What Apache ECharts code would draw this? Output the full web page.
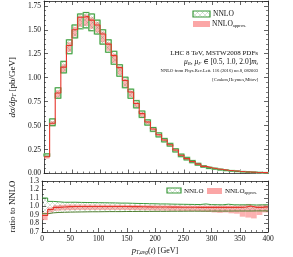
<!DOCTYPE html>
<html><head><meta charset="utf-8">
<script src="https://cdn.jsdelivr.net/npm/echarts@6/dist/echarts.min.js"></script>
<style>html,body{margin:0;padding:0;background:#fff}#c{width:293px;height:257px}</style>
</head><body><div id="c"></div>
<script>
// ---- data ----
const binLeft = [0,10,20,30,40,50,60,70,80,90,100,110,120,130,140,150,160,170,180,190,
                 200,210,220,230,240,250,260,270,280,290,300,310,320,330,340,350,360,370,380,390];
const binWidth = 10;
const xTicks = [0,50,100,150,200,250,300,350,400];
// top panel: dsigma/dpT [pb/GeV]
const nnloHi = [0.205,0.57,0.895,1.17,1.395,1.55,1.665,1.68,1.665,1.60,1.50,1.395,1.275,1.135,1.005,0.88,0.76,0.652,0.56,0.48,
                0.424,0.366,0.314,0.258,0.202,0.168,0.135,0.106,0.080,0.065,0.055,0.045,0.037,0.031,0.026,0.021,0.018,0.015,0.012,0.010];
const nnloLo = [0.18,0.50,0.785,1.05,1.25,1.415,1.51,1.52,1.49,1.455,1.35,1.265,1.14,1.015,0.895,0.785,0.685,0.585,0.505,0.44,
                0.382,0.33,0.286,0.225,0.176,0.142,0.113,0.087,0.066,0.052,0.045,0.036,0.030,0.024,0.020,0.016,0.013,0.011,0.009,0.007];
const apxMid = [0.175,0.525,0.84,1.11,1.335,1.50,1.63,1.64,1.60,1.55,1.455,1.35,1.23,1.105,0.97,0.85,0.73,0.625,0.538,0.465,
                0.405,0.35,0.30,0.245,0.19,0.155,0.125,0.098,0.074,0.060,0.050,0.041,0.034,0.028,0.023,0.019,0.016,0.013,0.011,0.009];
const apxHi  = [0.19,0.545,0.87,1.14,1.37,1.53,1.645,1.66,1.63,1.58,1.48,1.37,1.25,1.12,0.99,0.865,0.745,0.64,0.55,0.47,
                0.415,0.36,0.307,0.252,0.197,0.161,0.13,0.102,0.077,0.062,0.052,0.043,0.035,0.029,0.024,0.020,0.017,0.014,0.012,0.010];
const apxLo  = [0.155,0.49,0.79,1.06,1.27,1.43,1.53,1.54,1.51,1.47,1.37,1.28,1.155,1.03,0.905,0.795,0.69,0.59,0.51,0.445,
                0.385,0.333,0.288,0.228,0.178,0.145,0.115,0.089,0.067,0.054,0.045,0.037,0.030,0.025,0.020,0.016,0.013,0.011,0.009,0.007];
// bottom panel: ratio to NNLO
const rNnloHi = [1.10,1.06,1.055,1.05,1.05,1.05,1.048,1.047,1.046,1.045,1.044,1.043,1.042,1.04,1.04,1.038,1.036,1.035,1.033,1.032,
                 1.03,1.03,1.028,1.027,1.026,1.025,1.024,1.023,1.03,1.022,1.021,1.02,1.027,1.02,1.02,1.02,1.02,1.018,1.02,1.02];
const rNnloLo = [0.915,0.925,0.93,0.932,0.934,0.935,0.936,0.937,0.938,0.938,0.939,0.94,0.94,0.94,0.941,0.941,0.942,0.942,0.942,0.943,
                 0.943,0.943,0.944,0.944,0.944,0.945,0.945,0.945,0.945,0.946,0.946,0.946,0.946,0.947,0.947,0.947,0.947,0.948,0.948,0.948];
const rApxMid = [0.895,0.965,0.99,0.995,0.998,1.0,1.0,1.0,1.0,1.0,1.0,1.0,1.0,1.0,1.0,0.998,0.998,0.997,0.996,0.995,
                 0.995,0.994,0.993,0.993,0.992,0.992,0.991,0.99,0.99,0.99,0.99,0.99,0.99,0.99,0.99,0.992,1.005,0.99,0.99,0.995];
const rApxHi  = [0.93,0.99,1.015,1.02,1.022,1.023,1.023,1.023,1.022,1.022,1.021,1.02,1.02,1.02,1.019,1.018,1.017,1.016,1.015,1.014,
                 1.013,1.012,1.012,1.011,1.01,1.01,1.01,1.01,1.01,1.01,1.01,1.01,1.012,1.01,1.01,1.015,1.03,1.01,1.015,1.02];
const rApxLo  = [0.84,0.93,0.95,0.955,0.957,0.958,0.96,0.96,0.96,0.96,0.96,0.96,0.96,0.96,0.96,0.958,0.958,0.957,0.956,0.955,
                 0.953,0.952,0.95,0.95,0.948,0.947,0.945,0.945,0.94,0.935,0.93,0.925,0.93,0.92,0.915,0.88,0.87,0.86,0.90,0.93];

// ---- helpers ----
const FONT = '"Liberation Serif","DejaVu Serif",serif';
const GREEN = '#3a9a3a', LGREEN = '#b5e0b5', RED = '#e5352b', PINK = 'rgba(250,125,125,0.6)';
function hatchCanvas(color){
  const c=document.createElement('canvas'); c.width=c.height=5;
  const g=c.getContext('2d'); g.strokeStyle=color; g.lineWidth=0.6;
  g.beginPath(); g.moveTo(0,0); g.lineTo(5,5); g.moveTo(5,0); g.lineTo(0,5); g.stroke();
  return c;
}
const hatch = {image: hatchCanvas('rgba(70,130,70,0.35)'), repeat:'repeat'};
function bandData(lo, hi){ return binLeft.map((x,i)=>[x, x+binWidth, lo[i], hi[i]]); }
function stepData(v){ const d = binLeft.map((x,i)=>[x, v[i]]); d.push([binLeft[binLeft.length-1]+binWidth, v[v.length-1]]); return d; }
function rectFromApi(api){
  const a = api.coord([api.value(0), api.value(3)]);
  const b = api.coord([api.value(1), api.value(2)]);
  return {x:a[0], y:a[1], width:b[0]-a[0], height:b[1]-a[1]};
}

function xAx(grid, pos, labels, name){
  return {type:'value', gridIndex:grid, position:pos, min:0, max:400, interval:50,
    axisLine:{show:true, onZero:false, lineStyle:{color:'#222', width:0.8}},
    axisTick:{show:true, inside:true, length:4, lineStyle:{color:'#222', width:0.7}},
    minorTick:{show:true, splitNumber:5, length:2, lineStyle:{color:'#222', width:0.6}},
    splitLine:{show:false},
    axisLabel:{show:labels, margin:3, fontFamily:FONT, fontSize:7.5, color:'#111'},
    name: name || '', nameLocation:'middle', nameGap:14,
    nameTextStyle:{fontFamily:FONT, fontSize:8, color:'#111',
      rich:{i:{fontFamily:FONT, fontStyle:'italic', fontSize:8.5}, s:{fontFamily:FONT, fontStyle:'italic', fontSize:5.5, verticalAlign:'bottom', padding:[4,0,0,0]}, n:{fontFamily:FONT, fontSize:8}}}
  };
}
function yAx(grid, pos, labels, min, max, interval, minorN, dec, name){
  return {type:'value', gridIndex:grid, position:pos, min:min, max:max, interval:interval,
    axisLine:{show:true, onZero:false, lineStyle:{color:'#222', width:0.8}},
    axisTick:{show:true, inside:true, length:4, lineStyle:{color:'#222', width:0.7}},
    minorTick:{show:true, splitNumber:minorN, length:2, lineStyle:{color:'#222', width:0.6}},
    splitLine:{show:false},
    axisLabel:{show:labels, margin:3, fontFamily:FONT, fontSize:7.5, color:'#111', showMaxLabel: max===1.3,
      formatter: v => v.toFixed(dec)},
    name: name || '', nameLocation:'middle', nameGap:25, nameRotate:90,
    nameTextStyle:{fontFamily:FONT, fontSize:8.8, color:'#111',
      rich:{i:{fontFamily:FONT, fontStyle:'italic', fontSize:9}, s:{fontFamily:FONT, fontStyle:'italic', fontSize:6, verticalAlign:'bottom'}, n:{fontFamily:FONT, fontSize:9}}}
  };
}

const chart = echarts.init(document.getElementById('c'), null, {renderer:'canvas'});
const option = {
  animation:false,
  grid:[{left:35, right:25, top:1, height:172.5}, {left:35, right:25, top:181, height:56.5}],
  xAxis:[xAx(0,'bottom',false), xAx(0,'top',false), xAx(1,'bottom',true,'{i|p}{s|T,avg}{n|(}{i|t}{n|) [GeV]}'), xAx(1,'top',false)],
  yAxis:[yAx(0,'left',true,0,1.8,0.25,5,2,'{i|dσ/dp}{s|T}{n| [pb/GeV]}'), yAx(0,'right',false,0,1.8,0.25,5,2),
         yAx(1,'left',true,0.7,1.3,0.1,2,1,'ratio to NNLO'), yAx(1,'right',false,0.7,1.3,0.1,2,1)],
  series:[
    // top: approx band
    {type:'custom', xAxisIndex:0, yAxisIndex:0, data:bandData(apxLo, apxHi), encode:{x:[0,1], y:[2,3]}, z:2,
      renderItem:(p,api)=>({type:'rect', shape:rectFromApi(api), style:{fill:PINK}})},
    // top: NNLO band
    {type:'custom', xAxisIndex:0, yAxisIndex:0, data:bandData(nnloLo, nnloHi), encode:{x:[0,1], y:[2,3]}, z:3,
      renderItem:(p,api)=>{ const s=rectFromApi(api); return {type:'group', children:[
        {type:'rect', shape:s, style:{fill:hatch, stroke:LGREEN, lineWidth:1.6}},
        {type:'rect', shape:s, style:{fill:null, stroke:GREEN, lineWidth:0.9}}]}; }},
    {type:'line', xAxisIndex:0, yAxisIndex:0, data:stepData(apxMid), step:'end', symbol:'none', z:5,
      lineStyle:{color:RED, width:1.1}},
    // bottom: approx band
    {type:'custom', xAxisIndex:2, yAxisIndex:2, data:bandData(rApxLo, rApxHi), encode:{x:[0,1], y:[2,3]}, z:2,
      renderItem:(p,api)=>({type:'rect', shape:rectFromApi(api), style:{fill:PINK}})},
    {type:'custom', xAxisIndex:2, yAxisIndex:2, data:bandData(rNnloLo, rNnloHi), encode:{x:[0,1], y:[2,3]}, z:3,
      renderItem:(p,api)=>({type:'rect', shape:rectFromApi(api), style:{fill:hatch}})},
    {type:'line', xAxisIndex:2, yAxisIndex:2, data:stepData(rNnloHi), step:'end', symbol:'none', z:4,
      lineStyle:{color:GREEN, width:1}},
    {type:'line', xAxisIndex:2, yAxisIndex:2, data:stepData(rNnloLo), step:'end', symbol:'none', z:4,
      lineStyle:{color:'#4f7f2f', width:1}},
    {type:'line', xAxisIndex:2, yAxisIndex:2, data:stepData(rApxMid), step:'end', symbol:'none', z:5,
      lineStyle:{color:RED, width:1.1}}
  ],
  graphic:[
    // top legend
    {type:'rect', shape:{x:193, y:11, width:17, height:6}, style:{fill:hatch, stroke:GREEN, lineWidth:1.2}},
    {type:'text', style:{x:213, y:14.5, text:'NNLO', font:'7.5px '+FONT, fill:'#111', verticalAlign:'middle'}},
    {type:'rect', shape:{x:193, y:21, width:17, height:6}, style:{fill:'rgba(250,150,150,0.85)'}},
    {type:'text', style:{x:212, y:24.5, text:'{n|NNLO}{s|approx.}', fill:'#111', verticalAlign:'middle',
      rich:{n:{fontFamily:FONT, fontSize:7.5}, s:{fontFamily:FONT, fontSize:4.5, verticalAlign:'bottom', padding:[3,0,0,0]}}}},
    // annotations
    {type:'text', style:{x:258, y:53, text:'LHC 8 TeV, MSTW2008 PDFs', font:'7px '+FONT, fill:'#111', align:'right', verticalAlign:'middle'}},
    {type:'text', style:{x:258, y:62, text:'{i|μ}{s|R}{n|, }{i|μ}{s|F}{n| ∈ [0.5, 1.0, 2.0]}{i|m}{s|t}', fill:'#111', align:'right', verticalAlign:'middle',
      rich:{i:{fontFamily:FONT, fontStyle:'italic', fontSize:7.5}, s:{fontFamily:FONT, fontStyle:'italic', fontSize:5, verticalAlign:'bottom'}, n:{fontFamily:FONT, fontSize:7.5}}}},
    {type:'text', style:{x:258, y:71, text:'NNLO from Phys.Rev.Lett. 116 (2016) no.8, 082003', font:'4.6px '+FONT, fill:'#111', align:'right', verticalAlign:'middle'}},
    {type:'text', style:{x:258, y:80, text:'[Czakon,Heymes,Mitov]', font:'4.6px '+FONT, fill:'#111', align:'right', verticalAlign:'middle'}},
    // bottom legend
    {type:'rect', shape:{x:167, y:188, width:14, height:5}, style:{fill:hatch, stroke:GREEN, lineWidth:1.2}},
    {type:'text', style:{x:184, y:191, text:'NNLO', font:'7px '+FONT, fill:'#111', verticalAlign:'middle'}},
    {type:'rect', shape:{x:207, y:188, width:15, height:6}, style:{fill:'rgba(250,150,150,0.85)'}},
    {type:'text', style:{x:225, y:191, text:'{n|NNLO}{s|approx.}', fill:'#111', verticalAlign:'middle',
      rich:{n:{fontFamily:FONT, fontSize:7}, s:{fontFamily:FONT, fontSize:4.2, verticalAlign:'bottom', padding:[3,0,0,0]}}}}
  ]
};
chart.setOption(option);
</script></body></html>
